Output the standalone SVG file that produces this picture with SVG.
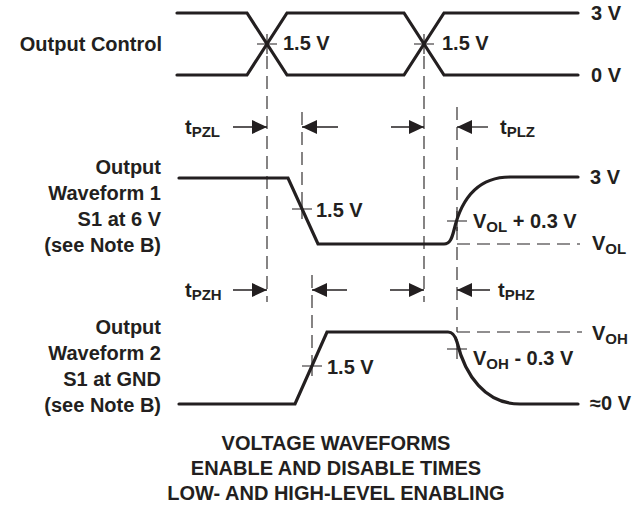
<svg xmlns="http://www.w3.org/2000/svg" width="642" height="508" viewBox="0 0 642 508">
<style>
text{font-family:"Liberation Sans",Arial,sans-serif;font-weight:bold;font-size:20px;fill:#231f20}
.sub{font-size:15px}
.wave{fill:none;stroke:#231f20;stroke-width:3.2;stroke-linecap:round;stroke-linejoin:miter}
.dash{fill:none;stroke:#231f20;stroke-width:1.1;stroke-dasharray:13 7}
.tick{fill:none;stroke:#231f20;stroke-width:1.1}
.arr{fill:none;stroke:#231f20;stroke-width:1.3}
</style>
<defs>
<marker id="ah" markerUnits="userSpaceOnUse" markerWidth="16" markerHeight="15" refX="15" refY="7" orient="auto">
<path d="M0,0 L15,7 L0,14 z" fill="#231f20"/>
</marker>
</defs>
<rect width="642" height="508" fill="#ffffff"/>

<g id="output-control">
<path class="wave" d="M177 13 L247 13 L287 75 L404 75 L444 13 L578 13"/>
<path class="wave" d="M177 75 L247 75 L287 13 L404 13 L444 75 L578 75"/>
<path class="tick" d="M257 44 H277 M267 34 V54 M414 44 H434 M424 34 V54"/>
<text x="162" y="51" text-anchor="end">Output Control</text>
<text x="283" y="50">1.5 V</text>
<text x="442" y="50">1.5 V</text>
<text x="591" y="20">3 V</text>
<text x="591" y="82">0 V</text>
</g>

<g id="waveform-1">
<path class="wave" d="M179 178 L288 178 L318 244 L444 244 C450 244 452 238 454 230 C462 196 480 177 510 177 L578 177"/>
<path class="tick" d="M292 209 H312 M302 199 V219 M447 221 H467 M457 211 V231"/>
<text x="161" y="173.5" text-anchor="end">Output</text>
<text x="161" y="200" text-anchor="end">Waveform 1</text>
<text x="161" y="226" text-anchor="end">S1 at 6 V</text>
<text x="161" y="252" text-anchor="end">(see Note B)</text>
<text x="316" y="217">1.5 V</text>
<text x="473" y="227.5">V<tspan class="sub" dy="4">OL</tspan><tspan dy="-4"> + 0.3 V</tspan></text>
<text x="590" y="184">3 V</text>
<text x="592" y="250">V<tspan class="sub" dy="4">OL</tspan></text>
</g>

<g id="waveform-2">
<path class="wave" d="M179 404 L295 404 L327 332 L448 332 C452 332 455 335 457 342 C465 375 485 404 520 404 L578 404"/>
<path class="tick" d="M302 366 H322 M312 356 V376 M447 349 H467 M457 339 V359"/>
<text x="161" y="334" text-anchor="end">Output</text>
<text x="161" y="360" text-anchor="end">Waveform 2</text>
<text x="161" y="386" text-anchor="end">S1 at GND</text>
<text x="161" y="412" text-anchor="end">(see Note B)</text>
<text x="327" y="373.5">1.5 V</text>
<text x="473" y="364.5">V<tspan class="sub" dy="4">OH</tspan><tspan dy="-4"> - 0.3 V</tspan></text>
<text x="592" y="339.5">V<tspan class="sub" dy="4">OH</tspan></text>
<text x="590" y="409.5">≈0 V</text>
</g>

<g id="connectors">
<path class="dash" d="M267 56 V302 M424 56 V302 M302 112 V199 M457 107 V332 M312 275 V356 M457 244 H580 M457 332 H582"/>
<path class="arr" marker-end="url(#ah)" d="M233 127 H267"/>
<path class="arr" marker-end="url(#ah)" d="M338 127 H302"/>
<path class="arr" marker-end="url(#ah)" d="M391 127 H424"/>
<path class="arr" marker-end="url(#ah)" d="M488 127 H457"/>
<path class="arr" marker-end="url(#ah)" d="M233 290 H267"/>
<path class="arr" marker-end="url(#ah)" d="M347 290 H312"/>
<path class="arr" marker-end="url(#ah)" d="M390 290 H424"/>
<path class="arr" marker-end="url(#ah)" d="M490 290 H457"/>
</g>

<g id="timing-labels">
<text x="185" y="134">t<tspan class="sub" dy="3">PZL</tspan></text>
<text x="500" y="134">t<tspan class="sub" dy="3">PLZ</tspan></text>
<text x="185" y="297">t<tspan class="sub" dy="3">PZH</tspan></text>
<text x="498" y="297">t<tspan class="sub" dy="3">PHZ</tspan></text>
</g>

<g id="title">
<text x="336" y="450" text-anchor="middle">VOLTAGE WAVEFORMS</text>
<text x="336" y="475" text-anchor="middle">ENABLE AND DISABLE TIMES</text>
<text x="336" y="500" text-anchor="middle">LOW- AND HIGH-LEVEL ENABLING</text>
</g>
</svg>
